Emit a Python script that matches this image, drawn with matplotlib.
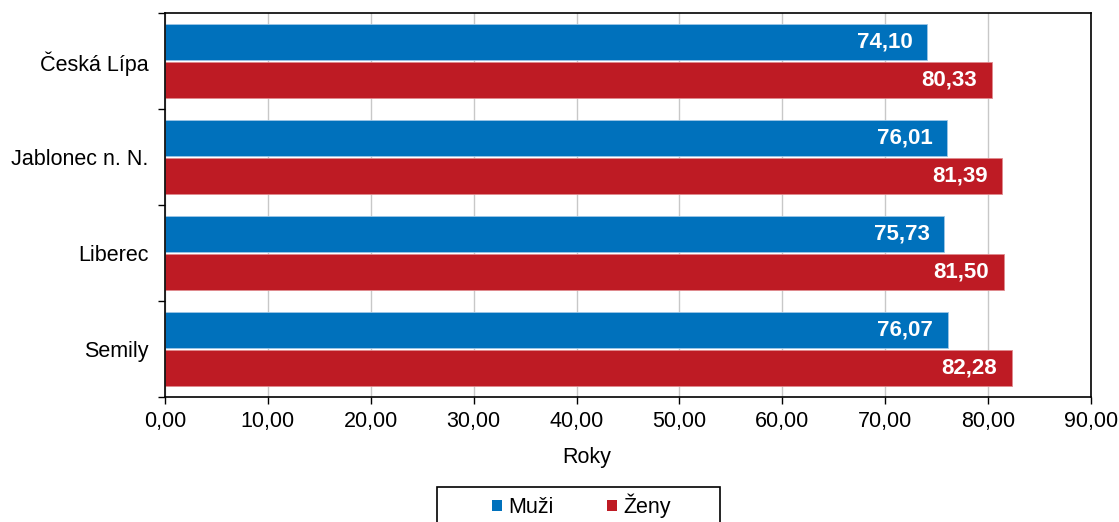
import matplotlib
matplotlib.use("Agg")
import matplotlib.pyplot as plt
from matplotlib.patches import Rectangle
import numpy as np

# data
okresy = ["Česká Lípa", "Jablonec n. N.", "Liberec", "Semily"]
muzi = [74.10, 76.01, 75.73, 76.07]
zeny = [80.33, 81.39, 81.50, 82.28]
xticks = [0, 10, 20, 30, 40, 50, 60, 70, 80, 90]

BLUE = "#0071BC"
RED = "#BE1B24"
FS = 15.5

plt.rcParams["font.family"] = ["Liberation Sans", "DejaVu Sans"]

fig = plt.figure(figsize=(11.19, 5.22), dpi=100)
ax = fig.add_axes([165 / 1119, 1 - 397 / 522, (1091 - 165) / 1119, (397 - 13) / 522])

y = np.arange(len(okresy))
h = 0.375
off = 0.195

b1 = ax.barh(y - off, muzi, height=h, color=BLUE, edgecolor="#9EC6E6", linewidth=0.6, label="Muži", zorder=2)
b2 = ax.barh(y + off, zeny, height=h, color=RED, edgecolor="#E08A8E", linewidth=0.6, label="Ženy", zorder=2)

def fmt(v):
    return f"{v:.2f}".replace(".", ",")

for bars, vals in ((b1, muzi), (b2, zeny)):
    for bar, v in zip(bars, vals):
        ax.text(bar.get_width() - 1.4, bar.get_y() + bar.get_height() / 2, fmt(v),
                ha="right", va="center", color="white", fontsize=16, fontweight="bold", zorder=3)

ax.set_xlim(0, 90)
ax.set_ylim(len(okresy) - 0.5, -0.5)
ax.set_xticks(xticks)
ax.set_xticklabels([fmt(t) for t in xticks], fontsize=FS)
ax.xaxis.grid(True, color="#C8C8C8", linewidth=1, zorder=0)
ax.set_axisbelow(True)

ax.set_yticks(y)
ax.set_yticklabels(okresy, fontsize=FS)
ax.tick_params(axis="y", which="major", length=0, pad=12)
ax.set_yticks(np.arange(-0.5, len(okresy)), minor=True)
ax.tick_params(axis="y", which="minor", length=5, width=1, direction="out")
ax.tick_params(axis="x", length=5, width=1, direction="out", pad=5)

for s in ax.spines.values():
    s.set_linewidth(1.2)
    s.set_color("black")

ax.set_xlabel("Roky", fontsize=FS)
ax.xaxis.set_label_coords((587 - 165) / 926, -(458 - 397) / 384)
ax.xaxis.label.set_va("center")

# legend with its own frame
fig.add_artist(Rectangle((437 / 1119, -0.05), (720 - 437) / 1119, 0.05 + 1 - 487 / 522,
                         transform=fig.transFigure, fill=False, edgecolor="black", linewidth=1.2))
leg = fig.legend(handles=[b1, b2], labels=["Muži", "Ženy"], loc="center left",
                 bbox_to_anchor=(492 / 1119, 1 - 506 / 522), ncol=2, fontsize=FS,
                 frameon=False, handlelength=0.45, handleheight=0.45, handletextpad=0.3,
                 columnspacing=2.5, borderpad=0, borderaxespad=0)
for hdl in leg.legend_handles:
    hdl.set_edgecolor("none")

fig.savefig("out.png", dpi=100)
